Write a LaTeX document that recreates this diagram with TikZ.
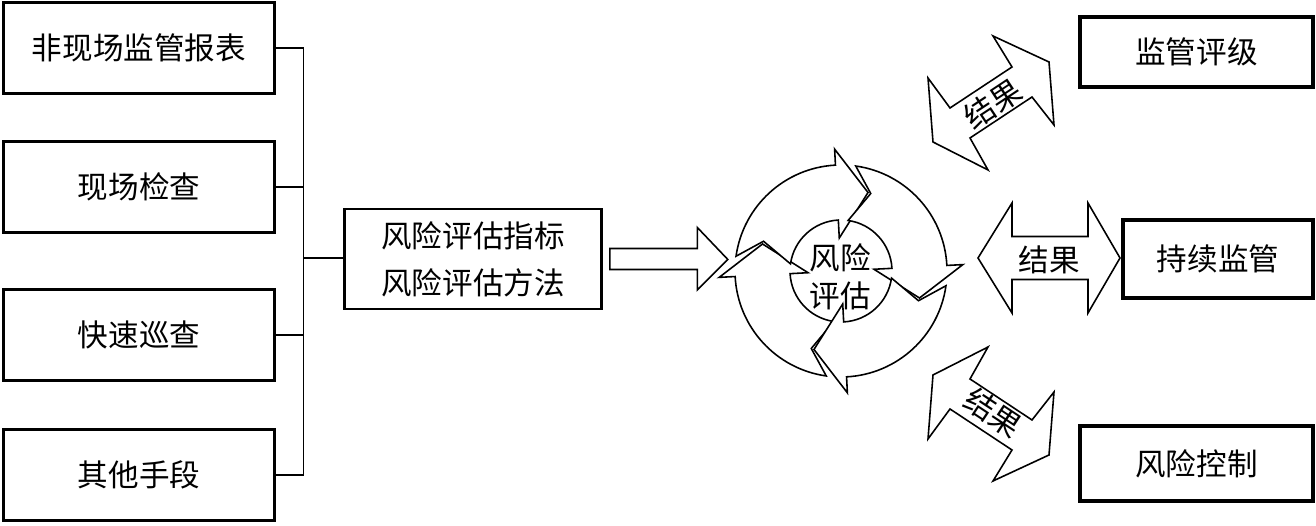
\documentclass[tikz,border=0pt]{standalone}
\usepackage{fontspec}
\setmainfont{Noto Sans CJK SC}
\usetikzlibrary{positioning, calc}

\begin{document}
\begin{tikzpicture}[
    srcbox/.style={draw, line width=1.7pt, minimum width=5.42cm,
                   minimum height=1.82cm, font=\fontsize{17.4}{22}\selectfont},
    midbox/.style={draw, line width=1.5pt, minimum width=5.14cm,
                   minimum height=2.0cm, align=center,
                   font=\fontsize{17.4}{26.7}\selectfont},
    resbox/.style={draw, line width=1.9pt, font=\fontsize{17.4}{22}\selectfont},
    lbl/.style={font=\fontsize{17.4}{21.7}\selectfont, align=center},
    link/.style={line width=1.1pt},
    blockarrow/.style={draw, line width=0.9pt, fill=white, line join=miter},
    ringarrow/.style={draw, line width=0.9pt, fill=white, line join=miter}
]
\useasboundingbox (0,0) rectangle (26.32,10.52);

% sources
\node[srcbox] (offsite) at (2.78,9.56) {非现场监管报表};
\node[srcbox] (onsite)  at (2.78,6.78) {现场检查};
\node[srcbox] (patrol)  at (2.78,3.82) {快速巡查};
\node[srcbox] (other)   at (2.78,1.02) {其他手段};

\node[midbox] (method) at (9.46,5.34) {风险评估指标\\风险评估方法};
\coordinate (bus) at (6.07,5.36);

\foreach \s in {offsite, onsite, patrol, other}
    \draw[link] (\s.east) -- (\s.east -| bus);
\draw[link] (offsite.east -| bus) -- (other.east -| bus);
\draw[link] (bus) -- (bus -| method.west);

% input arrow
\draw[blockarrow] ($(method.east)+(0.14,0.21)$) -- ++(1.75,0) -- ++(0,0.42)
    -- ++(0.61,-0.64) -- ++(-0.61,-0.61) -- ++(0,0.41) -- ++(-1.75,0) -- cycle;

% assessment cycle
\coordinate (cyc) at (16.82,5.10);
\begin{scope}[shift={(cyc)}]
\foreach \b in {183,93,3,-87}
    \draw[ringarrow] ({\b+79}:2.12) arc[start angle=\b+79, end angle=\b, radius=2.12]
        -- (\b:2.44) -- ({\b-22}:1.66) -- (\b:0.66) -- (\b:1.02)
        arc[start angle=\b, end angle=\b+79, radius=1.02] -- ({\b+66}:1.66) -- cycle;
\end{scope}
\node[lbl] (assess) at (16.80,4.98) {风险\\评估};

% results
\node[resbox, minimum width=4.66cm, minimum height=1.40cm] (rating)  at (23.93,9.48) {监管评级};
\node[resbox, minimum width=3.80cm, minimum height=1.56cm] (monitor) at (24.36,5.34) {持续监管};
\node[resbox, minimum width=4.66cm, minimum height=1.50cm] (control) at (23.93,1.25) {风险控制};

\draw[blockarrow] (19.86,9.80) -- (20.98,9.28) -- (21.08,8.02) -- (20.64,8.58)
    -- (19.40,7.76) -- (19.76,7.12) -- (18.66,7.68) -- (18.56,8.96)
    -- (19.00,8.36) -- (20.24,9.18) -- cycle;
\draw[blockarrow] (19.56,5.36) -- (20.24,6.46) -- (20.24,5.79) -- (21.76,5.79)
    -- (21.76,6.46) -- (22.40,5.36) -- (21.76,4.26) -- (21.76,4.93)
    -- (20.24,4.93) -- (20.24,4.26) -- cycle;
\draw[blockarrow] (19.86,0.90) -- (20.98,1.42) -- (21.08,2.68) -- (20.64,2.12)
    -- (19.40,2.94) -- (19.76,3.58) -- (18.66,3.02) -- (18.56,1.74)
    -- (19.00,2.34) -- (20.24,1.52) -- cycle;

\node[lbl, rotate=33.5]  (res1) at (19.86,8.44) {结果};
\node[lbl]               (res2) at (20.98,5.32) {结果};
\node[lbl, rotate=-33.5] (res3) at (19.86,2.26) {结果};
\end{tikzpicture}
\end{document}
